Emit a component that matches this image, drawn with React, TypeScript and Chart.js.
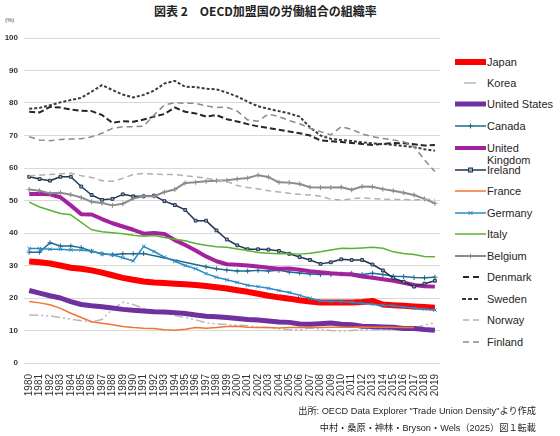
import { useEffect, useRef } from 'react'
import { Chart, registerables } from 'chart.js'
Chart.register(...registerables)

const YEARS = [
    '1980', '1981', '1982', '1983', '1984', '1985', '1986', '1987', '1988', '1989',
    '1990', '1991', '1992', '1993', '1994', '1995', '1996', '1997', '1998', '1999',
    '2000', '2001', '2002', '2003', '2004', '2005', '2006', '2007', '2008', '2009',
    '2010', '2011', '2012', '2013', '2014', '2015', '2016', '2017', '2018', '2019',
]

// union density (%)
const JAPAN = [31.2, 31.0, 30.6, 30.0, 29.3, 29.0, 28.5, 27.8, 27.0, 26.2, 25.6, 25.1, 24.8, 24.6, 24.4, 24.2, 24.0, 23.7, 23.3, 22.9, 22.4, 21.9, 21.3, 20.7, 20.2, 19.8, 19.3, 18.9, 18.6, 18.6, 18.6, 18.6, 18.8, 19.1, 18.0, 17.8, 17.6, 17.4, 17.2, 17.0]
const KOREA = [14.8, 14.7, 14.5, 14.0, 13.5, 13.0, 12.6, 13.4, 16.5, 18.7, 18.0, 16.8, 16.0, 15.3, 14.6, 14.0, 13.3, 12.4, 12.0, 11.8, 11.6, 11.5, 11.0, 10.9, 10.5, 10.2, 10.2, 10.8, 10.4, 10.0, 9.8, 10.0, 10.2, 10.3, 10.3, 10.2, 10.1, 10.7, 11.7, 12.4]
const UNITED_STATES = [22.3, 21.5, 20.7, 20.0, 18.9, 18.0, 17.6, 17.3, 16.9, 16.5, 16.2, 16.0, 15.8, 15.7, 15.5, 15.2, 14.8, 14.4, 14.2, 14.0, 13.7, 13.4, 13.2, 12.9, 12.6, 12.5, 12.0, 11.9, 12.1, 12.3, 11.9, 11.8, 11.3, 11.2, 11.1, 11.0, 10.6, 10.6, 10.3, 10.1]
const CANADA = [34.1, 34.1, 37.0, 36.0, 36.0, 35.5, 34.4, 33.6, 33.3, 33.6, 33.6, 33.7, null, null, null, null, null, 29.6, 29.0, 28.6, 28.3, 28.3, 28.5, 28.3, 28.5, 28.0, 27.7, 27.4, 27.2, 27.2, 27.4, 27.6, 27.2, 27.6, 27.2, 26.7, 26.6, 26.3, 26.2, 26.4]
const UNITED_KINGDOM = [52.0, 52.0, 51.9, 51.0, 48.5, 45.8, 45.7, 44.3, 43.0, 42.0, 41.0, 39.8, 40.0, 39.7, 37.8, 36.3, 34.6, 32.8, 31.3, 30.4, 30.2, 30.0, 29.7, 29.3, 29.0, 29.1, 28.7, 28.2, 27.9, 27.6, 27.4, 27.2, 26.6, 26.2, 25.8, 25.3, 24.7, 24.0, 23.6, 23.5]
const IRELAND = [57.3, 56.6, 56.1, 57.3, 57.3, 54.3, 51.7, 50.2, 50.5, 51.9, 51.3, 51.3, 51.5, 49.8, 48.6, 47.1, 43.8, 43.8, 40.8, 38.0, 36.2, 35.0, 35.0, 34.9, 34.5, 33.6, 32.6, 31.7, 30.5, 31.0, 31.9, 31.7, 31.7, 30.3, 28.5, 26.1, 25.0, 23.5, 24.4, 25.3]
const FRANCE = [18.9, 18.5, 17.9, 16.8, 15.3, 14.0, 12.7, 12.2, 11.8, 11.2, 10.9, 10.7, 10.6, 10.2, 10.1, 10.4, 10.9, 10.7, 10.9, 11.2, 11.3, 11.0, 10.9, 10.9, 10.8, 10.9, 10.9, 10.9, 10.9, 11.0, 11.0, 11.0, 11.1, 11.0, 11.0, 11.0, 10.9, 10.9, null, null]
const GERMANY = [35.2, 35.2, 35.0, 35.0, 34.8, 34.8, 34.4, 33.6, 33.3, 32.4, 31.4, 35.9, 34.3, 32.6, 31.3, 30.0, 29.0, 27.5, 26.4, 25.6, 24.8, 23.9, 23.5, 23.0, 22.3, 21.7, 20.8, 19.9, 19.1, 18.9, 18.9, 18.7, 18.4, 18.1, 17.8, 17.6, 17.2, 16.9, 16.6, 16.3]
const ITALY = [49.5, 48.0, 47.0, 46.0, 45.6, 43.3, 41.0, 40.4, 40.1, 39.8, 39.3, 39.0, 39.2, 38.6, 38.1, 37.6, 36.8, 36.2, 35.8, 35.6, 35.1, 34.6, 34.0, 33.8, 33.6, 33.7, 33.5, 33.8, 34.2, 34.8, 35.3, 35.2, 35.4, 35.6, 35.3, 34.2, 33.7, 33.4, 32.8, 32.7]
const BELGIUM = [53.4, 53.0, 52.2, 52.4, 51.8, 50.9, 49.6, 49.2, 48.5, 49.0, 50.6, 51.3, 51.3, 52.6, 53.4, 55.4, 55.6, 55.9, 56.1, 56.2, 56.6, 56.9, 57.8, 57.2, 55.6, 55.5, 55.1, 54.1, 54.0, 54.0, 54.1, 53.3, 54.3, 54.2, 53.5, 53.0, 52.4, 51.7, 50.5, 49.1]
const DENMARK = [77.3, 77.1, 78.8, 78.6, 78.0, 77.6, 77.5, 76.3, 73.9, 74.4, 74.2, 74.9, 75.8, 76.6, 78.6, 77.3, 76.8, 75.8, 76.3, 75.0, 74.3, 73.5, 72.8, 72.3, 71.8, 71.2, 70.7, 70.0, 68.5, 68.2, 68.0, 67.7, 67.4, 67.1, 67.4, 67.7, 67.6, 67.3, 66.9, 67.1]
const SWEDEN = [78.2, 78.5, 79.3, 80.2, 80.9, 81.6, 83.5, 85.5, 84.0, 82.6, 81.7, 82.5, 83.8, 86.0, 86.8, 85.0, 84.9, 84.4, 84.2, 83.2, 82.0, 80.4, 79.0, 78.2, 77.5, 76.8, 75.8, 72.5, 70.0, 69.0, 68.6, 68.3, 67.9, 67.6, 67.4, 67.1, 66.8, 66.4, 65.8, 65.3]
const NORWAY = [57.6, 57.8, 58.0, 58.2, 58.4, 57.6, 57.1, 56.1, 55.9, 56.8, 58.0, 58.3, 58.1, 58.0, 58.0, 57.6, 57.3, 56.9, 56.3, 55.9, 54.6, 54.0, 53.6, 53.0, 52.6, 52.2, 51.9, 51.7, 51.3, 50.4, 50.1, 50.5, 50.8, 50.6, 50.4, 50.3, 50.3, 50.2, 50.3, 50.4]
const FINLAND = [69.6, 68.6, 68.4, 68.8, 68.9, 69.0, 69.6, 70.7, 72.2, 72.7, 72.7, 72.9, 76.3, 79.4, 80.1, 79.9, 79.9, 79.1, 78.6, 78.7, 77.5, 74.8, 74.4, 76.6, 75.8, 74.6, 73.6, 72.2, 71.2, 70.2, 72.7, 71.9, 70.5, 69.6, 69.1, 68.6, 68.1, 66.6, 62.5, 58.9]

type Marker = 'cross' | 'crossRot' | 'rect' | undefined

interface Series {
    label: string
    data: (number | null)[]
    color: string
    width: number
    dash?: number[]
    legendDash?: string
    marker?: Marker
    legendY: number
}

const SERIES: Series[] = [
    { label: 'Japan', data: JAPAN, color: '#ff0000', width: 6, legendY: 62 },
    { label: 'Korea', data: KOREA, color: '#b8b8b8', width: 1.5, dash: [9, 3, 2, 3, 2, 3], legendDash: '0 9 12 40', legendY: 83 },
    { label: 'United States', data: UNITED_STATES, color: '#7030a0', width: 5, legendY: 104 },
    { label: 'Canada', data: CANADA, color: '#1f6b8e', width: 1.5, marker: 'cross', legendY: 126 },
    { label: 'United\nKingdom', data: UNITED_KINGDOM, color: '#a3239e', width: 4, legendY: 148 },
    { label: 'Ireland', data: IRELAND, color: '#1f3552', width: 1.5, marker: 'rect', legendY: 170 },
    { label: 'France', data: FRANCE, color: '#ee7630', width: 1.5, legendY: 191 },
    { label: 'Germany', data: GERMANY, color: '#2a8bc2', width: 1.5, marker: 'crossRot', legendY: 213 },
    { label: 'Italy', data: ITALY, color: '#5cb034', width: 1.5, legendY: 234 },
    { label: 'Belgium', data: BELGIUM, color: '#8c8c8c', width: 2, marker: 'cross', legendY: 256 },
    { label: 'Denmark', data: DENMARK, color: '#262626', width: 2, dash: [6, 3], legendDash: '0 8 6 4 6 40', legendY: 277 },
    { label: 'Sweden', data: SWEDEN, color: '#3a3a3a', width: 2, dash: [3, 2], legendDash: '0 7 4 2 4 2 4 40', legendY: 299 },
    { label: 'Norway', data: NORWAY, color: '#b0b0b0', width: 1.5, dash: [6, 4], legendDash: '0 8 6 4 6 40', legendY: 320 },
    { label: 'Finland', data: FINLAND, color: '#8a8a8a', width: 1.5, dash: [6, 4], legendDash: '0 8 6 4 6 40', legendY: 342 },
]

const FONT = '"Liberation Sans", Arial, "Noto Sans CJK JP", sans-serif'

function LegendMark({ s }: { s: Series }) {
    const c = s.color
    return (
        <svg width={31} height={12} style={{ display: 'block' }}>
            <line x1={0} y1={6} x2={31} y2={6} stroke={c} strokeWidth={s.width}
                  strokeDasharray={s.legendDash} />
            {s.marker === 'cross' && <path d="M15.5 3.5 V8.5 M13 6 H18" stroke={c} strokeWidth={1} />}
            {s.marker === 'crossRot' && <path d="M13.5 4 L17.5 8 M17.5 4 L13.5 8" stroke={c} strokeWidth={1} />}
            {s.marker === 'rect' && <rect x={13.5} y={4} width={4} height={4} fill="#9aa6b6" stroke={c} strokeWidth={1} />}
        </svg>
    )
}

export default function App() {
    const canvasRef = useRef<HTMLCanvasElement>(null)

    useEffect(() => {
        if (!canvasRef.current) return
        Chart.defaults.font.family = FONT
        const chart = new Chart(canvasRef.current, {
            type: 'line',
            data: {
                labels: YEARS,
                datasets: SERIES.map((s, i) => ({
                    label: s.label,
                    data: s.data,
                    borderColor: s.color,
                    backgroundColor: s.color,
                    borderWidth: s.width,
                    borderDash: s.dash ?? [],
                    borderJoinStyle: 'round' as const,
                    tension: 0,
                    spanGaps: true,
                    order: -i,
                    pointStyle: s.marker ?? 'circle',
                    pointRadius: s.marker ? (s.marker === 'rect' ? 2 : 2.5) : 0,
                    pointBorderColor: s.color,
                    pointBackgroundColor: s.marker === 'rect' ? '#9aa6b6' : s.color,
                    pointBorderWidth: 1,
                })),
            },
            options: {
                animation: false,
                responsive: true,
                maintainAspectRatio: false,
                layout: { padding: { top: 38, right: 9, left: 0, bottom: 0 } },
                plugins: { legend: { display: false }, tooltip: { enabled: false } },
                scales: {
                    x: {
                        offset: true,
                        grid: { display: false },
                        border: { display: false },
                        afterFit: (s: any) => { s.height = 73 },
                        ticks: {
                            autoSkip: false, maxRotation: 90, minRotation: 90, padding: 3,
                            color: '#333', font: { size: 10 },
                        },
                    },
                    y: {
                        min: 0, max: 100,
                        afterFit: (s: any) => { s.width = 24 },
                        grid: { color: '#d9d9d9', lineWidth: 1, drawTicks: false },
                        border: { display: false },
                        ticks: { stepSize: 10, padding: 6, color: '#333', font: { size: 8, weight: 'bold' } },
                    },
                },
            },
        })
        return () => chart.destroy()
    }, [])

    return (
        <div style={{ position: 'absolute', left: 0, top: 0, width: 560, height: 436, background: 'white', fontFamily: FONT, color: '#262626', overflow: 'hidden' }}>
            <div style={{ position: 'absolute', left: 154, top: 2, fontSize: 12, fontWeight: 'bold', whiteSpace: 'nowrap', fontFamily: '"Noto Sans CJK JP", sans-serif', color: '#222' }}>
                図表 2　OECD加盟国の労働組合の組織率
            </div>
            <div style={{ position: 'absolute', left: 5, top: 17, fontSize: 6, color: '#444' }}>(%)</div>
            <div style={{ position: 'absolute', left: 0, top: 0, width: 450, height: 436 }}>
                <canvas ref={canvasRef} />
            </div>
            {SERIES.map(s => (
                <div key={s.label} style={{ position: 'absolute', left: 455, top: s.legendY - 6, display: 'flex', alignItems: 'flex-start' }}>
                    <LegendMark s={s} />
                    <div style={{ fontSize: 11, lineHeight: '12px', whiteSpace: 'pre', marginLeft: 1 }}>{s.label}</div>
                </div>
            ))}
            <div style={{ position: 'absolute', right: 24, top: 405, fontSize: 9.2, lineHeight: '12px', textAlign: 'right', whiteSpace: 'nowrap' }}>
                出所: OECD Data Explorer "Trade Union Density"より作成
            </div>
            <div style={{ position: 'absolute', right: 24, top: 422, fontSize: 9.2, lineHeight: '12px', textAlign: 'right', whiteSpace: 'nowrap' }}>
                中村・桑原・神林・Bryson・Wels（2025）図１転載
            </div>
        </div>
    )
}
